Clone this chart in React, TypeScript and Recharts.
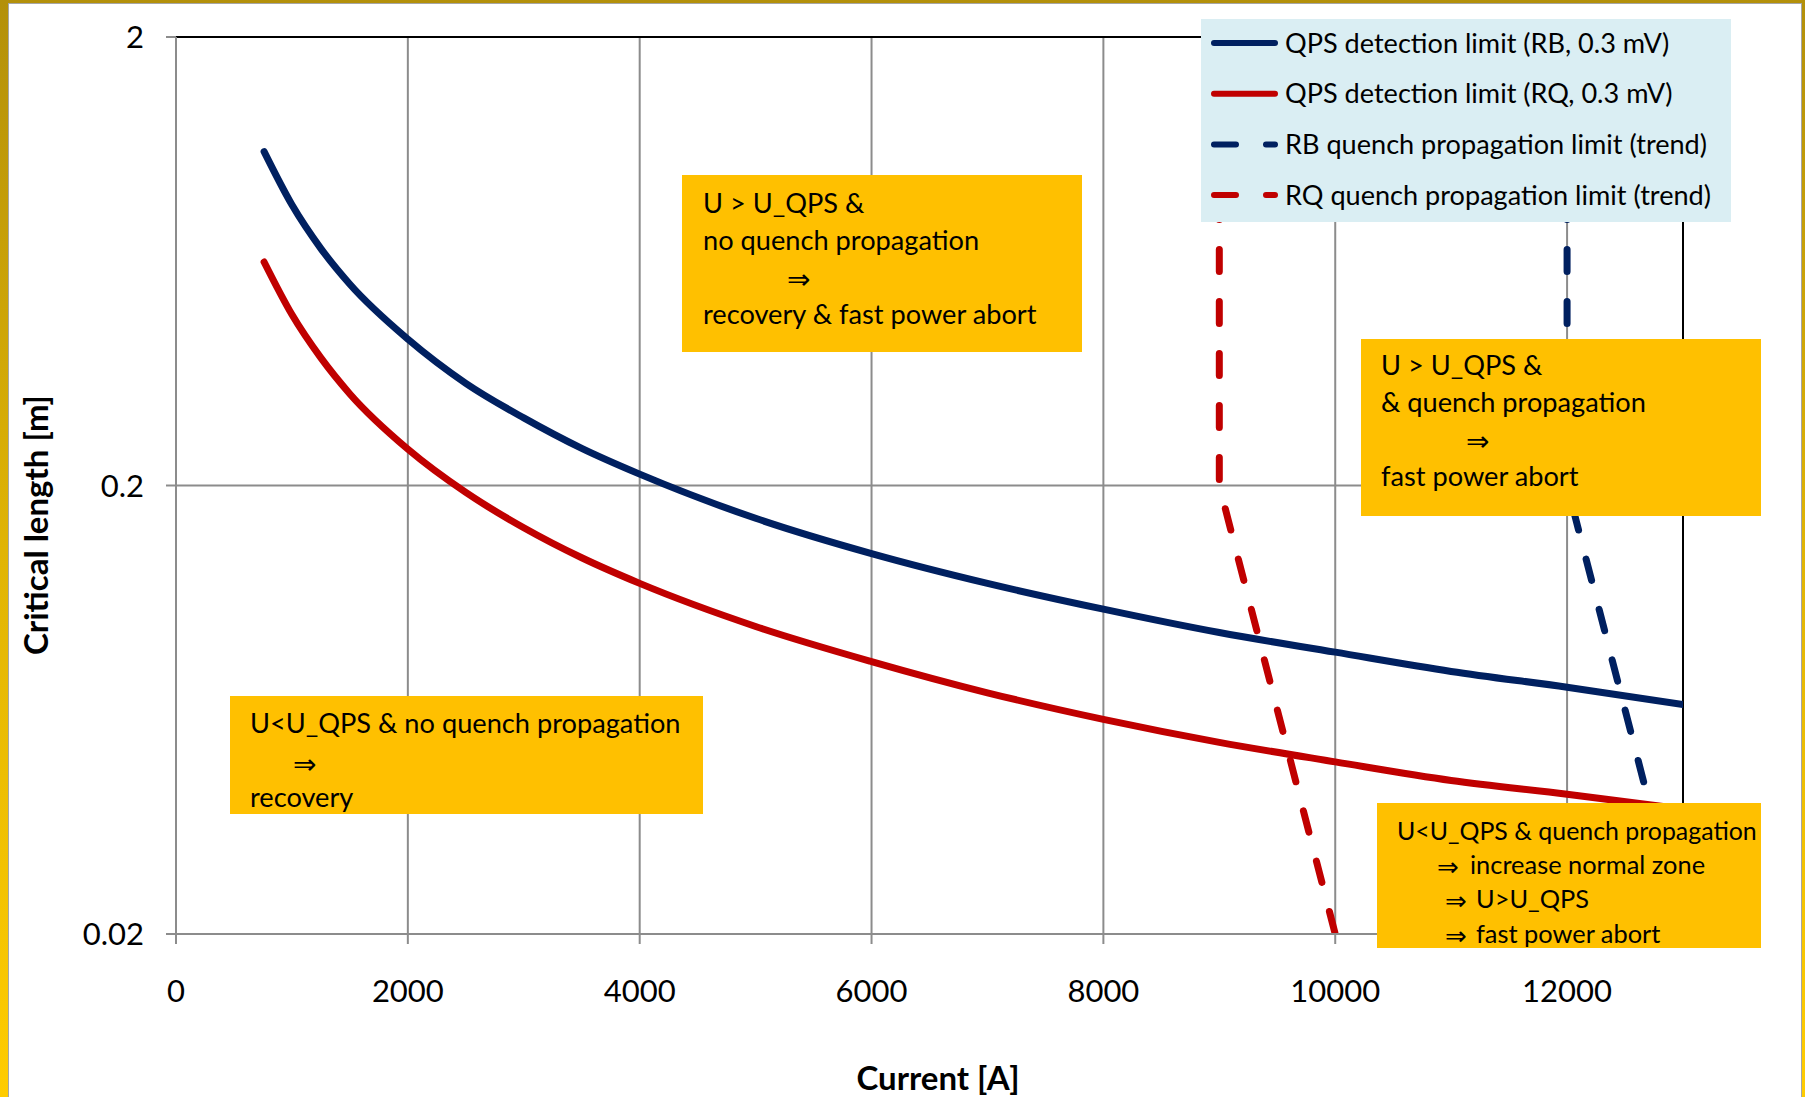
import React from 'react';
import { LineChart, Line, XAxis, YAxis, CartesianGrid, Legend, ReferenceLine } from 'recharts';

// ---------- data ----------
const currents = [760, 1000, 1250, 1500, 2000, 2500, 3000, 3500, 4000, 5000, 6000, 7000, 8000, 9000, 10000, 11000, 12000, 13000];
const rbQpsLimit = [1.11, 0.845, 0.675, 0.562, 0.424, 0.338, 0.283, 0.242, 0.212, 0.169, 0.141, 0.121, 0.106, 0.094, 0.085, 0.077, 0.071, 0.065];
const rqQpsLimit = [0.63, 0.481, 0.385, 0.32, 0.241, 0.193, 0.161, 0.138, 0.121, 0.097, 0.081, 0.069, 0.0602, 0.0535, 0.0484, 0.044, 0.041, 0.038];

const rbTrendCurrents = [12000, 12000, 13000];
const rbTrendLengths = [2, 0.2, 0.02];
const rqTrendCurrents = [9000, 9000, 10000];
const rqTrendLengths = [2, 0.2, 0.02];

const xTicks = [0, 2000, 4000, 6000, 8000, 10000, 12000];
const yTicks = [0.02, 0.2, 2];

const seriesNames = [
  'QPS detection limit (RB, 0.3 mV)',
  'QPS detection limit (RQ, 0.3 mV)',
  'RB quench propagation limit (trend)',
  'RQ quench propagation limit (trend)',
];

const xTitle = 'Current [A]';
const yTitle = 'Critical length [m]';

const boxTopMiddle = ['U > U_QPS &', 'no quench  propagation', '⇒', 'recovery & fast power abort'];
const boxRightMiddle = ['U > U_QPS &', '& quench  propagation', '⇒', 'fast power abort'];
const boxBottomLeft = ['U<U_QPS & no quench  propagation', '⇒', 'recovery'];
const boxBottomRight = ['U<U_QPS & quench propagation', 'increase normal zone', 'U>U_QPS', 'fast power abort'];

// ---------- styles ----------
const BLUE = '#002060';
const RED = '#C00000';
const GRID = '#8C8C8C';
const BOX = '#FFC000';
const LEGEND_BG = '#DAEEF3';
const FONT = 'Lato, "Open Sans", sans-serif';
const ARROW_FONT = '"DejaVu Sans", sans-serif';
const DASH = '22 30';
const ANN = 27.2;

const seriesStyles = [
  { color: BLUE, dash: undefined as string | undefined },
  { color: RED, dash: undefined as string | undefined },
  { color: BLUE, dash: DASH },
  { color: RED, dash: DASH },
];

const toPoints = (xs: number[], ys: number[]) => xs.map((x, i) => ({ x, y: ys[i] }));

const rbData = toPoints(currents, rbQpsLimit);
const rqData = toPoints(currents, rqQpsLimit);
const rbTrend = toPoints(rbTrendCurrents, rbTrendLengths);
const rqTrend = toPoints(rqTrendCurrents, rqTrendLengths);

const LegendContent = () => (
  <svg width={530} height={203} style={{ display: 'block' }}>
    {seriesNames.map((name, i) => {
      const cy = 24 + i * 50.7;
      const st = seriesStyles[i];
      return (
        <g key={name}>
          <line x1={13} x2={74} y1={cy} y2={cy} stroke={st.color} strokeWidth={6} strokeLinecap="round" strokeDasharray={st.dash} />
          <text x={84} y={cy + 9.5} fontFamily={FONT} fontSize={27.1} fill="#000">{name}</text>
        </g>
      );
    })}
  </svg>
);

const YTitle = () => (
  <text x={48} y={525} transform="rotate(-90 48 525)" textAnchor="middle" fontFamily={FONT} fontWeight={700} fontSize={33} fill="#000">
    {yTitle}
  </text>
);

const XTitle = () => (
  <text x={938} y={1090} textAnchor="middle" fontFamily={FONT} fontWeight={700} fontSize={33} fill="#000">
    {xTitle}
  </text>
);

const T = ({ x, y, children, size = ANN, font = FONT }: any) => (
  <text x={x} y={y} fontFamily={font} fontSize={size} fill="#000">{children}</text>
);

const Annotations = () => (
  <svg width={1805} height={1097} style={{ position: 'absolute', left: 0, top: 0, pointerEvents: 'none' }}>
    <defs>
      <clipPath id="clipBR">
        <rect x={1377} y={803} width={384} height={145} />
      </clipPath>
    </defs>
    {/* top middle */}
    <rect x={682} y={175} width={400} height={177} fill={BOX} />
    <T x={703} y={213}>{boxTopMiddle[0]}</T>
    <T x={703} y={250}>{boxTopMiddle[1]}</T>
    <T x={787} y={289} size={28} font={ARROW_FONT}>{boxTopMiddle[2]}</T>
    <T x={703} y={324}>{boxTopMiddle[3]}</T>
    {/* right middle */}
    <rect x={1361} y={339} width={400} height={177} fill={BOX} />
    <T x={1381} y={375}>{boxRightMiddle[0]}</T>
    <T x={1381} y={412}>{boxRightMiddle[1]}</T>
    <T x={1466} y={451} size={28} font={ARROW_FONT}>{boxRightMiddle[2]}</T>
    <T x={1381} y={486}>{boxRightMiddle[3]}</T>
    {/* bottom left */}
    <rect x={230} y={696} width={473} height={118} fill={BOX} />
    <T x={250} y={733}>{boxBottomLeft[0]}</T>
    <T x={293} y={774} size={28} font={ARROW_FONT}>{boxBottomLeft[1]}</T>
    <T x={250} y={807}>{boxBottomLeft[2]}</T>
    {/* bottom right */}
    <rect x={1377} y={803} width={384} height={145} fill={BOX} />
    <g clipPath="url(#clipBR)">
      <T x={1397} y={840} size={24.9}>{boxBottomRight[0]}</T>
      <T x={1437} y={876} size={26} font={ARROW_FONT}>⇒</T>
      <T x={1470} y={874} size={25.4}>{boxBottomRight[1]}</T>
      <T x={1445} y={910} size={26} font={ARROW_FONT}>⇒</T>
      <T x={1476} y={908} size={25.4}>{boxBottomRight[2]}</T>
      <T x={1445} y={945} size={26} font={ARROW_FONT}>⇒</T>
      <T x={1476} y={943} size={25.4}>{boxBottomRight[3]}</T>
    </g>
  </svg>
);

export default function App() {
  const tickStyle = { fontFamily: FONT, fontSize: 31, fill: '#000' };
  const axisStyle = { stroke: GRID, strokeWidth: 2 };
  return (
    <div
      style={{
        position: 'absolute',
        left: 0,
        top: 0,
        width: 1805,
        height: 1097,
        overflow: 'hidden',
        background: 'linear-gradient(to bottom, #B3900A 0%, #E0B405 50%, #FFCC00 100%)',
      }}
    >
      <div
        style={{
          position: 'absolute',
          left: 8,
          top: 3,
          width: 1794,
          height: 1200,
          boxSizing: 'border-box',
          background: '#FFFFFF',
          border: '1px solid #A6A6A6',
        }}
      />
      <div style={{ position: 'absolute', left: 0, top: 0 }}>
        <LineChart width={1805} height={1097} margin={{ top: 37, right: 122, bottom: 63, left: 16 }}>
          <CartesianGrid stroke={GRID} strokeWidth={2} />
          <XAxis
            dataKey="x"
            type="number"
            domain={[0, 13000]}
            ticks={xTicks}
            allowDataOverflow
            height={100}
            tickSize={10}
            tickMargin={36}
            tick={tickStyle}
            axisLine={axisStyle}
            tickLine={axisStyle}
            label={<XTitle />}
          />
          <YAxis
            dataKey="y"
            type="number"
            scale="log"
            domain={[0.02, 2]}
            ticks={yTicks}
            allowDataOverflow
            width={160}
            tickSize={10}
            tickMargin={22}
            tick={tickStyle}
            axisLine={axisStyle}
            tickLine={axisStyle}
            label={<YTitle />}
          />
          <ReferenceLine y={2} stroke="#000" strokeWidth={2} />
          <ReferenceLine x={13000} stroke="#000" strokeWidth={2} />
          <Line data={rbData} dataKey="y" name={seriesNames[0]} type="monotone" stroke={BLUE} strokeWidth={7} strokeLinecap="round" dot={false} isAnimationActive={false} />
          <Line data={rqData} dataKey="y" name={seriesNames[1]} type="monotone" stroke={RED} strokeWidth={7} strokeLinecap="round" dot={false} isAnimationActive={false} />
          <Line data={rbTrend} dataKey="y" name={seriesNames[2]} type="linear" stroke={BLUE} strokeWidth={7} strokeDasharray={DASH} strokeDashoffset={-4.5} strokeLinecap="round" dot={false} isAnimationActive={false} />
          <Line data={rqTrend} dataKey="y" name={seriesNames[3]} type="linear" stroke={RED} strokeWidth={7} strokeDasharray={DASH} strokeDashoffset={-4.5} strokeLinecap="round" dot={false} isAnimationActive={false} />
          <Legend
            layout="horizontal"
            verticalAlign="middle"
            align="center"
            content={<LegendContent />}
            wrapperStyle={{ position: 'absolute', left: 1201, top: 19, width: 530, height: 203, background: LEGEND_BG, margin: 0, padding: 0 }}
          />
        </LineChart>
      </div>
      <Annotations />
    </div>
  );
}
